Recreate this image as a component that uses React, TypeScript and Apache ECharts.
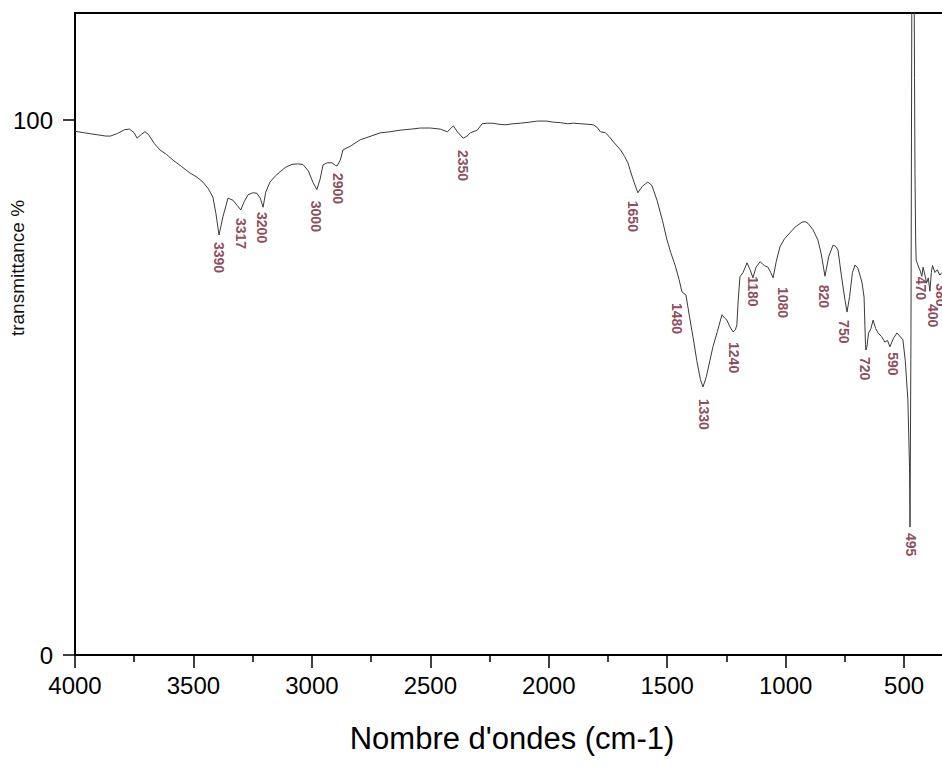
import React, { useEffect, useRef } from "react";
import * as echarts from "echarts";

// Spectrum: [wavenumber cm-1, transmittance %]
const spectrum: [number, number][] = [
  [4000, 97.9], [3960, 97.6], [3930, 97.4], [3900, 97.2], [3870, 97.0], [3850, 97.0],
  [3820, 97.5], [3790, 98.2], [3770, 98.3], [3750, 97.6], [3738, 96.6], [3720, 97.3],
  [3705, 97.8], [3690, 97.3], [3665, 95.6], [3641, 94.4], [3615, 93.6], [3586, 92.5],
  [3550, 91.3], [3515, 90.1], [3485, 89.3], [3460, 88.4], [3438, 87.2], [3418, 85.6],
  [3405, 82.5], [3392, 78.5], [3375, 82.0], [3354, 85.4], [3333, 85.0], [3315, 84.0],
  [3300, 83.2], [3285, 84.8], [3270, 86.0], [3250, 86.4], [3232, 86.3], [3218, 85.4],
  [3206, 83.7], [3195, 86.5], [3177, 88.4], [3155, 89.5], [3135, 90.3], [3110, 91.2],
  [3084, 91.7], [3060, 91.8], [3038, 91.7], [3015, 90.5], [2995, 88.3], [2979, 87.0],
  [2965, 89.0], [2953, 91.6], [2935, 92.0], [2915, 92.0], [2900, 91.5], [2894, 91.4],
  [2880, 92.5], [2869, 94.4], [2838, 95.1], [2796, 96.3], [2750, 97.0], [2711, 97.6],
  [2670, 97.8], [2627, 98.1], [2580, 98.3], [2542, 98.5], [2500, 98.5], [2458, 98.3],
  [2428, 97.8], [2403, 98.9], [2386, 97.8], [2361, 96.6], [2345, 97.0], [2331, 97.6],
  [2302, 98.1], [2281, 99.3], [2260, 99.4], [2238, 99.4], [2210, 99.2], [2183, 99.1],
  [2150, 99.3], [2120, 99.4], [2080, 99.6], [2048, 99.8], [2010, 99.8], [1981, 99.6],
  [1950, 99.5], [1921, 99.3], [1896, 99.4], [1865, 99.3], [1837, 99.2], [1812, 99.1],
  [1795, 98.6], [1782, 97.8], [1761, 97.6], [1745, 96.9], [1727, 95.9], [1697, 94.4],
  [1680, 93.2], [1666, 92.0], [1645, 89.0], [1624, 86.4], [1605, 87.6], [1582, 88.4],
  [1565, 87.8], [1543, 85.0], [1520, 81.2], [1501, 77.6], [1485, 75.2], [1467, 72.9],
  [1450, 70.2], [1438, 67.9], [1421, 67.3], [1405, 63.0], [1391, 59.4], [1375, 55.0],
  [1360, 51.5], [1349, 50.1], [1335, 52.0], [1320, 55.0], [1307, 57.6], [1288, 60.5],
  [1269, 63.6], [1258, 63.0], [1248, 62.6], [1235, 61.3], [1222, 60.4], [1212, 60.8],
  [1206, 61.7], [1200, 66.5], [1193, 70.7], [1180, 71.5], [1163, 73.3], [1150, 72.0],
  [1138, 70.5], [1125, 72.5], [1108, 73.5], [1090, 72.8], [1075, 72.5], [1063, 71.5],
  [1053, 70.5], [1040, 73.5], [1024, 76.3], [1005, 77.8], [982, 78.9], [960, 80.0],
  [931, 80.9], [918, 81.0], [906, 80.7], [885, 79.5], [864, 77.6], [850, 75.0],
  [834, 70.8], [818, 74.5], [800, 76.6], [790, 76.4], [779, 75.7], [765, 71.0],
  [750, 66.5], [741, 64.1], [730, 67.0], [718, 71.5], [707, 72.9], [695, 72.3],
  [678, 69.7], [669, 66.9], [663, 58.0], [661, 57.0], [657, 57.6], [650, 60.2],
  [640, 61.0], [631, 62.6], [620, 61.0], [610, 60.2], [595, 59.5], [581, 58.5],
  [570, 58.8], [560, 57.6], [545, 59.2], [530, 60.2], [518, 59.6], [505, 58.9],
  [495, 55.0], [484, 47.7], [477, 35.0], [475, 23.9], [471, 60.0], [467, 130],
  [458, 130], [456, 108], [454, 90], [451, 77], [449, 73.8], [442, 72.9],
  [432, 71.8], [425, 70.8], [420, 72.5], [412, 71.0], [405, 69.5], [398, 70.5],
  [391, 68.0], [385, 71.5], [380, 72.8], [370, 71.5], [360, 72.0], [349, 71.0],
  [340, 71.5],
];

// Peak annotations
const peakLabels = ["3390", "3317", "3200", "3000", "2900", "2350", "1650", "1480", "1330", "1240",
  "1180", "1080", "820", "750", "720", "590", "495", "470", "400", "380"];
const peakLabelX = [3392, 3299, 3210, 2982, 2889, 2361, 1643, 1457, 1343, 1216,
  1136, 1013, 840, 755, 667, 548, 472, 430, 379, 346];
const peakLabelY = [77.2, 81.7, 82.8, 84.9, 90.1, 94.4, 84.9, 65.8, 47.9, 58.5,
  70.8, 68.8, 69.2, 62.6, 55.7, 56.6, 22.8, 70.7, 65.6, 69.5];

const xMajorTicks = [500, 1000, 1500, 2000, 2500, 3000, 3500, 4000];
const xMinorTicks = [750, 1250, 1750, 2250, 2750, 3250, 3750];
const yTicks = [0, 100];
const xName = "Nombre d'ondes (cm-1)";
const yName = "transmittance %";

export default function App() {
  const ref = useRef<HTMLDivElement>(null);
  useEffect(() => {
    if (!ref.current) return;
    const chart = echarts.init(ref.current, undefined, { renderer: "svg" });
    const font = "'Liberation Sans', Arial, sans-serif";
    const xCommon = {
      type: "value" as const,
      min: 340,
      max: 4000,
      inverse: true,
      splitLine: { show: false },
    };
    chart.setOption({
      animation: false,
      backgroundColor: "#ffffff",
      grid: { left: 75, top: 13, right: 0, bottom: 119 },
      xAxis: [
        {
          ...xCommon,
          position: "bottom",
          axisLine: { show: true, onZero: false, lineStyle: { color: "#000", width: 2 } },
          axisTick: { show: true, length: 13, customValues: xMajorTicks, lineStyle: { color: "#000", width: 1.5 } },
          axisLabel: {
            margin: 18, fontSize: 24, color: "#000", fontFamily: font,
            customValues: xMajorTicks, formatter: (v: number) => String(v),
          },
        },
        {
          ...xCommon,
          position: "bottom",
          axisLine: { show: false, onZero: false },
          axisTick: { show: true, length: 7, customValues: xMinorTicks, lineStyle: { color: "#000", width: 1.5 } },
          axisLabel: { show: false },
        },
        {
          ...xCommon,
          position: "top",
          axisLine: { show: true, onZero: false, lineStyle: { color: "#000", width: 2 } },
          axisTick: { show: false },
          axisLabel: { show: false },
        },
      ],
      yAxis: {
        type: "value",
        min: 0,
        max: 120,
        axisLine: { show: true, onZero: false, lineStyle: { color: "#000", width: 2 } },
        axisTick: { show: true, length: 12, customValues: yTicks, lineStyle: { color: "#000", width: 1.5 } },
        axisLabel: { margin: 22, fontSize: 24, color: "#000", fontFamily: font, customValues: yTicks },
        splitLine: { show: false },
      },
      graphic: [
        {
          type: "text",
          x: 512,
          y: 738,
          style: { text: xName, font: `31px ${font}`, fill: "#000", textAlign: "center", textVerticalAlign: "middle" },
        },
        {
          type: "text",
          x: 17,
          y: 268,
          rotation: Math.PI / 2,
          style: { text: yName, font: `19px ${font}`, fill: "#111", textAlign: "center", textVerticalAlign: "middle" },
        },
      ],
      series: [
        {
          type: "line",
          data: spectrum,
          showSymbol: false,
          clip: true,
          silent: true,
          lineStyle: { color: "#3a3a3a", width: 1 },
        },
        {
          type: "scatter",
          silent: true,
          symbolSize: 1,
          itemStyle: { color: "rgba(0,0,0,0)" },
          data: peakLabels.map((t, i) => ({ value: [peakLabelX[i], peakLabelY[i]], name: t })),
          label: {
            show: true,
            position: "inside",
            rotate: -90,
            align: "left",
            verticalAlign: "middle",
            formatter: (p: any) => p.name,
            color: "#731a33",
            fontSize: 14,
            fontWeight: "bold",
            fontFamily: font,
          },
        },
      ],
    });
    return () => chart.dispose();
  }, []);
  return (
    <div
      ref={ref}
      style={{ position: "fixed", left: 0, top: 0, width: 942, height: 774, background: "#fff" }}
    />
  );
}
